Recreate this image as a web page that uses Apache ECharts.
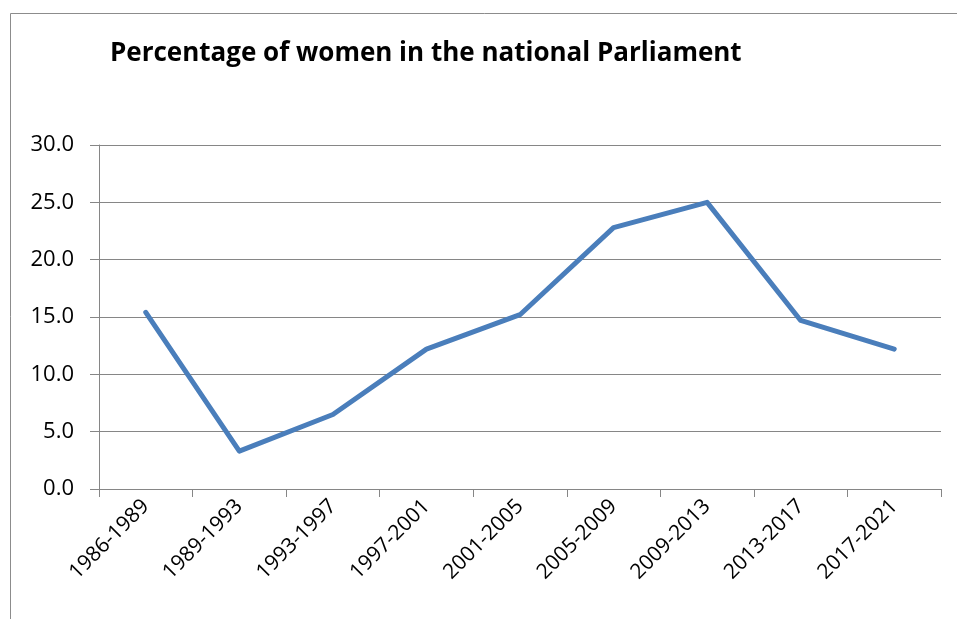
<!DOCTYPE html>
<html>
<head>
<meta charset="utf-8">
<script src="https://cdn.jsdelivr.net/npm/echarts@6/dist/echarts.min.js"></script>
<style>
  html, body { margin: 0; padding: 0; background: #fff; }
  #chart { width: 957px; height: 619px; }
</style>
</head>
<body>
<div id="chart"></div>
<script>
var periods = ["1986-1989", "1989-1993", "1993-1997", "1997-2001", "2001-2005",
               "2005-2009", "2009-2013", "2013-2017", "2017-2021"];
var womenPct = [15.4, 3.3, 6.5, 12.2, 15.2, 22.8, 25.0, 14.7, 12.2];
var yTicks = [0, 5, 10, 15, 20, 25, 30];

var myChart = echarts.init(document.getElementById('chart'));

var option = {
    backgroundColor: '#fff',
    textStyle: { fontFamily: 'Open Sans' },
    graphic: [{
        type: 'rect',
        shape: { x: 10.5, y: 13.5, width: 1000, height: 700 },
        style: { fill: 'none', stroke: '#8c8c8c', lineWidth: 1 },
        silent: true
    }],
    title: {
        text: 'Percentage of women in the national Parliament',
        left: 105,
        top: 36,
        textStyle: { fontSize: 26, fontWeight: 'bold', color: '#000', fontFamily: 'Open Sans' }
    },
    grid: { left: 99, right: 16, top: 145, bottom: 130 },
    xAxis: {
        type: 'category',
        data: periods,
        boundaryGap: true,
        axisLine: { lineStyle: { color: '#868686', width: 1 } },
        axisTick: { show: true, length: 8, alignWithLabel: false, lineStyle: { color: '#868686' } },
        axisLabel: { rotate: 45, margin: 14, fontSize: 21, color: '#000', interval: 0 }
    },
    yAxis: {
        type: 'value',
        min: yTicks[0],
        max: yTicks[yTicks.length - 1],
        interval: 5,
        axisLine: { show: true, lineStyle: { color: '#868686', width: 1 } },
        axisTick: { show: true, length: 9, lineStyle: { color: '#868686' } },
        splitLine: { lineStyle: { color: '#868686', width: 1 } },
        axisLabel: {
            fontSize: 22, color: '#000', margin: 25,
            formatter: function (v) { return v.toFixed(1); }
        }
    },
    series: [{
        name: 'Women %',
        type: 'line',
        data: womenPct,
        symbol: 'none',
        lineStyle: { color: '#4a7ebb', width: 5, cap: 'round', join: 'round' },
        itemStyle: { color: '#4a7ebb' }
    }]
};
myChart.setOption(option);
</script>
</body>
</html>
